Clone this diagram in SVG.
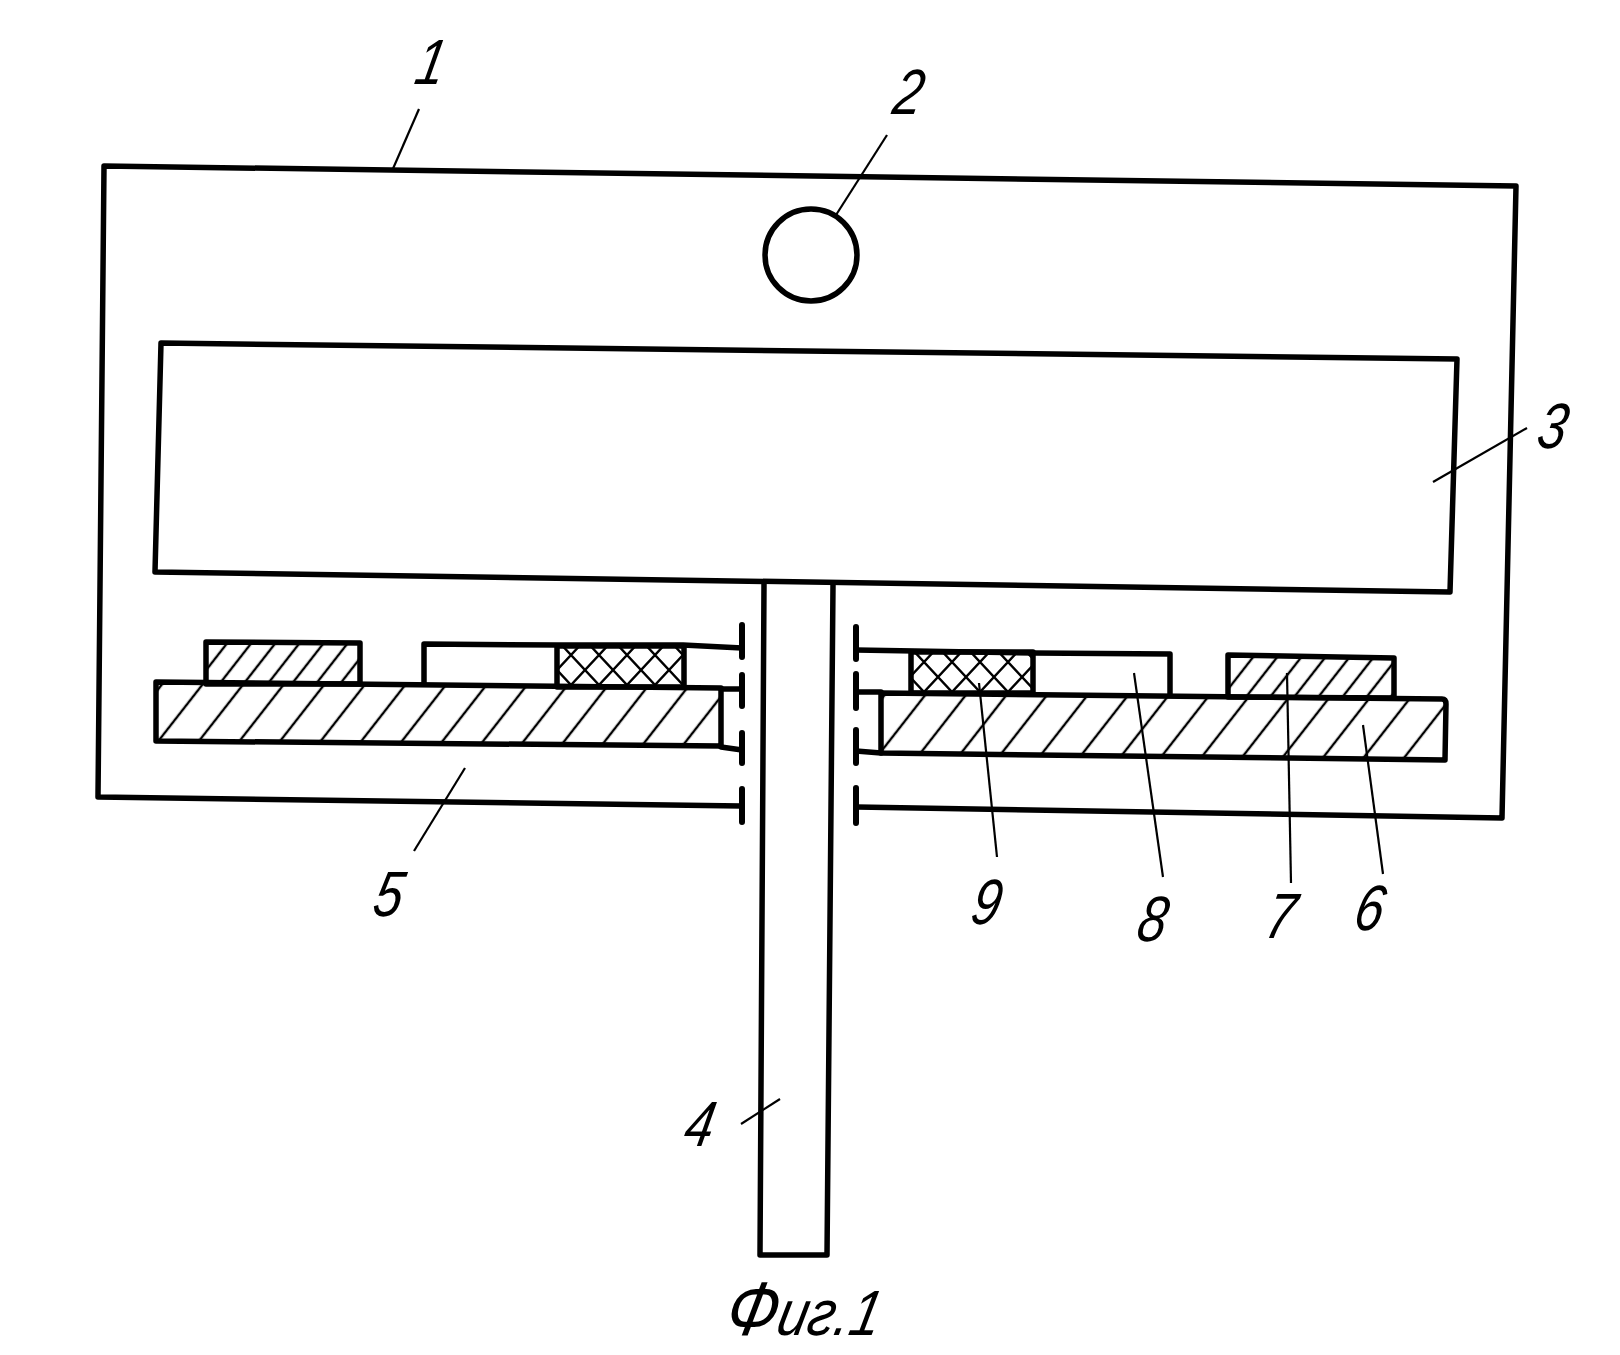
<svg xmlns="http://www.w3.org/2000/svg" width="1620" height="1355" viewBox="0 0 1620 1355">
<style>
.o{fill:none;stroke:#000;stroke-width:5.5;stroke-linejoin:round;stroke-linecap:round}
.h{stroke:#000;stroke-width:5.5;stroke-linejoin:round}
.k{fill:none;stroke:#000;stroke-width:6;stroke-linecap:round}
.l{stroke:#000;stroke-width:2.2;fill:none}
.t{font-family:"Liberation Sans",Arial,sans-serif;font-style:italic;font-size:64px;fill:#000;text-anchor:middle}
</style>
<defs>
<pattern id="wide" width="32" height="32" patternUnits="userSpaceOnUse" patternTransform="rotate(38)"><line x1="5" y1="0" x2="5" y2="32" stroke="#000" stroke-width="2.4"/></pattern>
<pattern id="narrow" width="19" height="19" patternUnits="userSpaceOnUse" patternTransform="rotate(38)"><line x1="5" y1="0" x2="5" y2="19" stroke="#000" stroke-width="2.4"/></pattern>
<pattern id="cross" width="28" height="30" patternUnits="userSpaceOnUse" patternTransform="translate(557,640)"><path d="M0 0L28 30M28 0L0 30" stroke="#000" stroke-width="2.4" fill="none"/></pattern>
<pattern id="cross2" width="28" height="30" patternUnits="userSpaceOnUse" patternTransform="translate(910,647)"><path d="M0 0L28 30M28 0L0 30" stroke="#000" stroke-width="2.4" fill="none"/></pattern>
</defs>
<rect width="1620" height="1355" fill="#fff"/>
<g id="housing-1"><path class="o" d="M741 806L98 797L104 166L1516 186L1502 818L857 807"/>
<path class="k" d="M742 789V822M856 788V823"/></g>
<g id="lamp-2"><circle class="o" cx="811" cy="255" r="46"/></g>
<g id="block-3"><path class="o" d="M161 343L1457 359L1450 592L155 572Z"/></g>
<g id="rod-4"><path class="o" d="M764 584L760 1255H827L833 585"/></g>
<g id="plate-5-left">
<path class="h" fill="url(#wide)" d="M156 682L721 688V746L156 741Z"/>
<path class="o" d="M721 689H742M721 747L742 750"/>
<path class="k" d="M742 625V657M742 675V706M742 733V763"/>
</g>
<g id="pad-left"><path class="h" fill="url(#narrow)" d="M206 684V642L360 643V684Z"/></g>
<g id="carrier-left"><path class="o" d="M424 684V644L557 645H683L742 648"/>
<path class="h" fill="url(#cross)" d="M557 646H684V687H557Z"/></g>
<g id="plate-6">
<path class="h" fill="url(#wide)" d="M881 693L1442 699Q1446 699 1446 704L1445 760L881 753Z"/>
<path class="o" d="M856 692H881M856 751L881 753"/>
<path class="k" d="M856 627V659M856 674V708M856 730V763"/>
</g>
<g id="pad-7"><path class="h" fill="url(#narrow)" d="M1228 697V655L1394 658V698Z"/></g>
<g id="carrier-8"><path class="o" d="M856 650L1033 653L1170 654V695"/></g>
<g id="mesh-9"><path class="h" fill="url(#cross2)" d="M911 652H1033V693H911Z"/></g>
<g id="leaders">
<line class="l" x1="419" y1="109" x2="392" y2="171"/>
<line class="l" x1="887" y1="135" x2="836" y2="215"/>
<line class="l" x1="1527" y1="428" x2="1433" y2="482"/>
<line class="l" x1="780" y1="1099" x2="741" y2="1124"/>
<line class="l" x1="465" y1="768" x2="414" y2="851"/>
<line class="l" x1="1363" y1="725" x2="1383" y2="874"/>
<line class="l" x1="1287" y1="673" x2="1291" y2="883"/>
<line class="l" x1="1134" y1="673" x2="1163" y2="877"/>
<line class="l" x1="979" y1="683" x2="997" y2="857"/>
</g>
<g id="labels">
<text class="t" transform="translate(427,84) scale(.8,1) skewX(-14)">1</text>
<text class="t" transform="translate(905,114) scale(.8,1) skewX(-14)">2</text>
<text class="t" transform="translate(1549,448) scale(.8,1) skewX(-14)">3</text>
<text class="t" transform="translate(696,1146) scale(.8,1) skewX(-14)">4</text>
<text class="t" transform="translate(385,916) scale(.8,1) skewX(-14)">5</text>
<text class="t" transform="translate(1366,930) scale(.8,1) skewX(-14)">6</text>
<text class="t" transform="translate(1277,938) scale(.8,1) skewX(-14)">7</text>
<text class="t" transform="translate(1149,941) scale(.8,1) skewX(-14)">8</text>
<text class="t" transform="translate(983,924) scale(.8,1) skewX(-14)">9</text>
<text class="t" transform="translate(800,1335) scale(.85,1) skewX(-14)"><tspan font-size="76">Ф</tspan>иг.1</text>
</g>
</svg>
